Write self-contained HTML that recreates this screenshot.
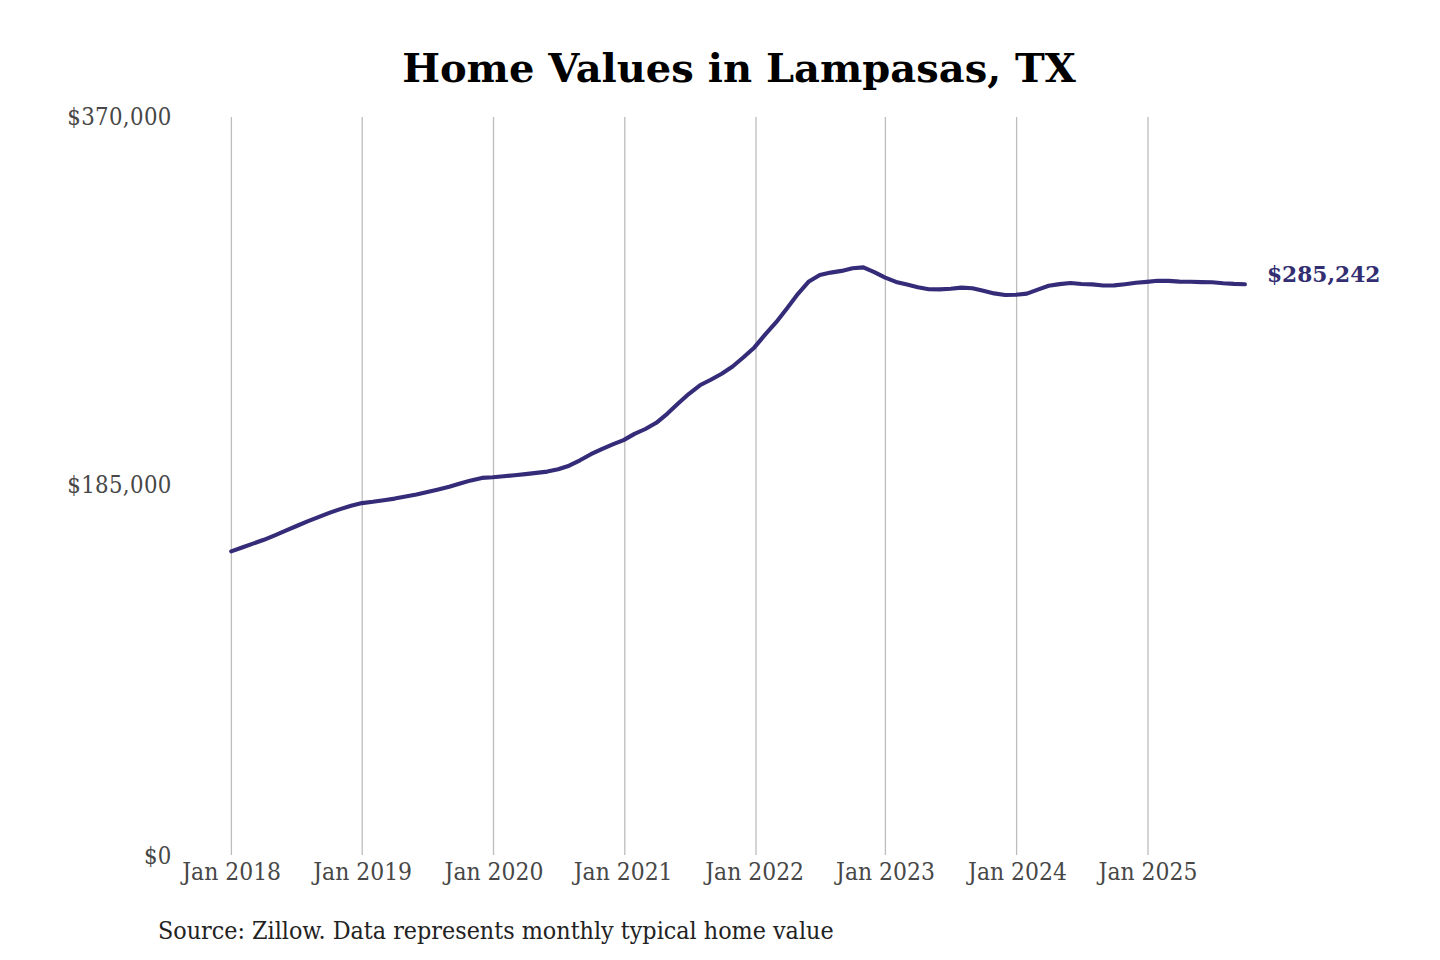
<!DOCTYPE html>
<html><head><meta charset="utf-8"><title>Home Values in Lampasas, TX</title>
<style>
html,body{margin:0;padding:0;background:#fff;}
body{width:1440px;height:960px;position:relative;overflow:hidden;}
.t{position:absolute;white-space:nowrap;line-height:1;}
#title{left:0;width:1478px;text-align:center;top:43.7px;font:700 40px "DejaVu Serif",serif;color:#000;}
.yl{right:1268.3px;font:400 23.7px "DejaVu Serif Condensed","DejaVu Serif",serif;letter-spacing:0.35px;color:#474747;}
.xl{font:400 24.4px "DejaVu Serif Condensed","DejaVu Serif",serif;color:#474747;width:200px;text-align:center;}
#src{left:158px;top:916.3px;font:400 24.8px "DejaVu Serif Condensed","DejaVu Serif",serif;color:#222;}
#lab{left:1267.4px;top:260.05px;font:700 21.9px "DejaVu Serif",serif;color:#332e72;transform:scale(0.993,1.05);transform-origin:0 0;}
svg{position:absolute;left:0;top:0;}
</style></head><body>
<div class="t" id="title">Home Values in Lampasas, TX</div>
<svg width="1440" height="960" viewBox="0 0 1440 960">
<g stroke="#bdbdbd" stroke-width="1.3">
<line x1="231.4" y1="117" x2="231.4" y2="855"/>
<line x1="362.2" y1="117" x2="362.2" y2="855"/>
<line x1="493.5" y1="117" x2="493.5" y2="855"/>
<line x1="624.8" y1="117" x2="624.8" y2="855"/>
<line x1="756" y1="117" x2="756" y2="855"/>
<line x1="885.4" y1="117" x2="885.4" y2="855"/>
<line x1="1016.6" y1="117" x2="1016.6" y2="855"/>
<line x1="1148" y1="117" x2="1148" y2="855"/>
</g>
<polyline fill="none" stroke="#342c78" stroke-width="4.1" stroke-linecap="round" stroke-linejoin="round" points="231.2,551.4 242.1,547.5 253.0,543.6 263.9,539.8 274.8,535.3 285.7,530.7 296.6,526.0 307.5,521.4 318.4,517.1 329.3,512.9 340.2,509.1 351.1,505.8 362.0,503.1 372.9,501.8 383.8,500.2 394.7,498.6 405.6,496.5 416.5,494.4 427.4,492.0 438.3,489.5 449.2,486.8 460.1,483.5 471.0,480.4 481.9,477.9 492.8,477.3 503.7,476.3 514.6,475.2 525.5,474.1 536.4,472.9 547.3,471.6 558.2,469.2 569.1,465.7 580.0,460.3 590.9,454.2 601.8,449.1 612.7,444.4 623.6,440.1 634.5,433.9 645.4,429.0 656.3,422.8 667.2,413.8 678.1,403.5 689.0,393.8 699.9,385.3 710.8,379.7 721.7,373.7 732.6,366.5 743.5,357.3 754.4,347.4 765.3,334.4 776.2,322.2 787.1,308.3 798.0,293.8 808.9,281.4 819.8,275.0 830.7,272.6 841.6,270.9 852.5,268.3 863.4,267.4 874.3,272.2 885.2,277.6 896.1,281.9 907.0,284.6 917.9,287.3 928.8,289.2 939.7,289.4 950.6,288.7 961.5,287.6 972.4,288.2 983.3,290.7 994.2,293.4 1005.1,295.0 1016.0,294.8 1026.9,293.6 1037.8,289.6 1048.7,285.8 1059.6,284.1 1070.5,283.0 1081.4,284.0 1092.3,284.4 1103.2,285.5 1114.1,285.4 1125.0,284.2 1135.9,282.8 1146.8,281.9 1157.7,280.8 1168.6,280.9 1179.5,281.6 1190.4,281.8 1201.3,282.1 1212.2,282.2 1223.1,283.2 1234.0,283.9 1244.9,284.3"/>
</svg>
<div class="t yl" style="top:102.8px">$370,000</div>
<div class="t yl" style="top:471px">$185,000</div>
<div class="t yl" style="top:842px">$0</div>
<div class="t xl" style="left:131.7px;top:857px">Jan 2018</div>
<div class="t xl" style="left:262.7px;top:857px">Jan 2019</div>
<div class="t xl" style="left:394px;top:857px">Jan 2020</div>
<div class="t xl" style="left:523.2px;top:857px">Jan 2021</div>
<div class="t xl" style="left:654.7px;top:857px">Jan 2022</div>
<div class="t xl" style="left:785.5px;top:857px">Jan 2023</div>
<div class="t xl" style="left:917.5px;top:857px">Jan 2024</div>
<div class="t xl" style="left:1048px;top:857px">Jan 2025</div>
<div class="t" id="lab">$285,242</div>
<div class="t" id="src">Source: Zillow. Data represents monthly typical home value</div>
</body></html>
